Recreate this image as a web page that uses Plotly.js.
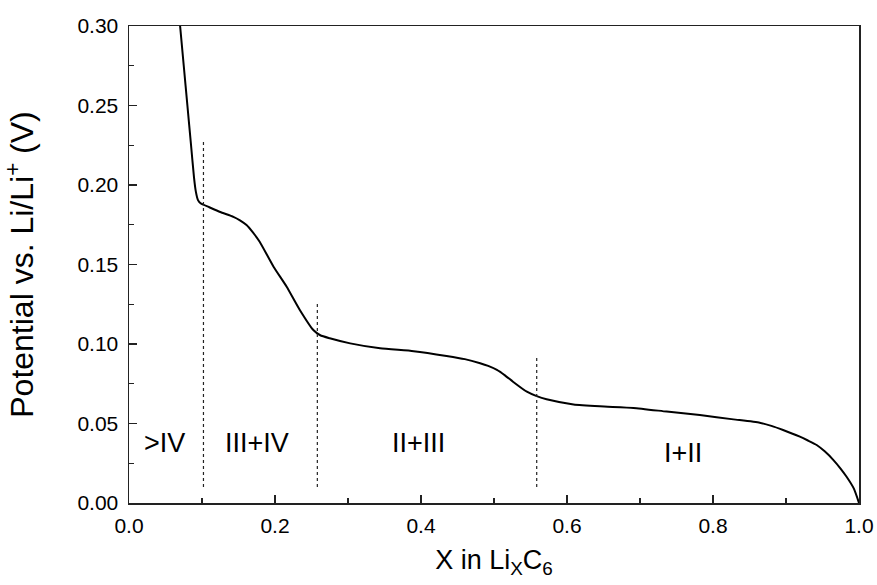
<!DOCTYPE html>
<html>
<head>
<meta charset="utf-8">
<script src="https://cdn.plot.ly/plotly-3.0.1.min.js"></script>
<style>
  html, body { margin: 0; padding: 0; background: #fff; }
  #chart { width: 877px; height: 585px; }
</style>
</head>
<body>
<div id="chart"></div>
<script>
// Composition x in LixC6 and measured potential (V vs Li/Li+)
const compX = [0.070, 0.075, 0.080, 0.085, 0.089, 0.0915, 0.0945, 0.098, 0.11, 0.125, 0.143, 0.152, 0.161, 0.170,
  0.179, 0.198, 0.216, 0.234, 0.2525, 0.262, 0.275, 0.303, 0.344, 0.39, 0.435, 0.46, 0.481, 0.492, 0.504,
  0.515, 0.526, 0.545, 0.5585, 0.572, 0.609, 0.645, 0.691, 0.7365, 0.782, 0.828, 0.864, 0.88, 0.896, 0.919,
  0.93, 0.942, 0.953, 0.965, 0.975, 0.983, 0.993, 1.0];
const potential = [0.300, 0.275, 0.250, 0.225, 0.205, 0.196, 0.1905, 0.1885, 0.186, 0.183, 0.180, 0.1778, 0.1748, 0.170,
  0.1643, 0.1486, 0.136, 0.1214, 0.1088, 0.1055, 0.1036, 0.1004, 0.0973, 0.0955, 0.0925, 0.0905, 0.0879, 0.0862, 0.0837,
  0.0803, 0.0763, 0.0700, 0.0672, 0.0652, 0.0620, 0.0608, 0.0598, 0.0575, 0.0553, 0.0526, 0.0505, 0.0485, 0.0459, 0.0417,
  0.0393, 0.0365, 0.0325, 0.0270, 0.0215, 0.0165, 0.0090, 0.000];

// Stage boundaries (dotted lines)
const boundaryX = [0.102, 0.258, 0.5585];
const boundaryTop = [0.227, 0.126, 0.092];
const boundaryBottom = [0.010, 0.010, 0.010];

// Region labels
const regionLabels = ['>IV', 'III+IV', 'II+III', 'I+II'];
const regionX = [0.049, 0.175, 0.396, 0.759];
const regionY = [0.0375, 0.0375, 0.0375, 0.0315];

const traces = [{
  x: compX, y: potential, type: 'scatter', mode: 'lines',
  line: { color: '#000', width: 2, shape: 'spline', smoothing: 0.5 },
  showlegend: false, hoverinfo: 'skip'
}];
boundaryX.forEach((bx, i) => {
  traces.push({
    x: [bx, bx], y: [boundaryBottom[i], boundaryTop[i]], type: 'scatter', mode: 'lines',
    line: { color: '#222', width: 1.2, dash: 'dot' }, showlegend: false, hoverinfo: 'skip'
  });
});

const FONT = 'Liberation Sans, Arial, sans-serif';
const annotations = regionLabels.map((t, i) => ({
  x: regionX[i], y: regionY[i], xref: 'x', yref: 'y', text: t, showarrow: false,
  font: { family: FONT, size: 27, color: '#000' },
  xanchor: 'center', yanchor: 'middle'
}));

const axisCommon = {
  showgrid: false, zeroline: false, showline: true, linecolor: '#222', linewidth: 1.5,
  mirror: true, ticks: 'inside', ticklen: 8, tickwidth: 1.2, tickcolor: '#222',
  tickfont: { family: FONT, size: 21, color: '#000' }
};

const layout = {
  width: 877, height: 585,
  margin: { l: 129, r: 18, t: 26, b: 82 },
  paper_bgcolor: '#fff', plot_bgcolor: '#fff',
  showlegend: false,
  xaxis: Object.assign({}, axisCommon, {
    range: [0, 1], dtick: 0.2, tick0: 0, tickformat: '.1f', ticklabelstandoff: 3,
    minor: { dtick: 0.1, ticks: 'inside', ticklen: 5, tickcolor: '#222', tickwidth: 1.2 },
    title: { text: 'X in Li<sub>X</sub>C<sub>6</sub>', standoff: 14,
      font: { family: FONT, size: 27, color: '#000' } }
  }),
  yaxis: Object.assign({}, axisCommon, {
    range: [0, 0.3], dtick: 0.05, tick0: 0, tickformat: '.2f', ticklabelstandoff: 5,
    minor: { dtick: 0.025, ticks: 'inside', ticklen: 5, tickcolor: '#222', tickwidth: 1.2 },
    title: { text: 'Potential vs. Li/Li<sup>+</sup> (V)', standoff: 36,
      font: { family: FONT, size: 32, color: '#000' } }
  }),
  annotations: annotations
};

Plotly.newPlot('chart', traces, layout, { staticPlot: true, displayModeBar: false });
</script>
</body>
</html>
